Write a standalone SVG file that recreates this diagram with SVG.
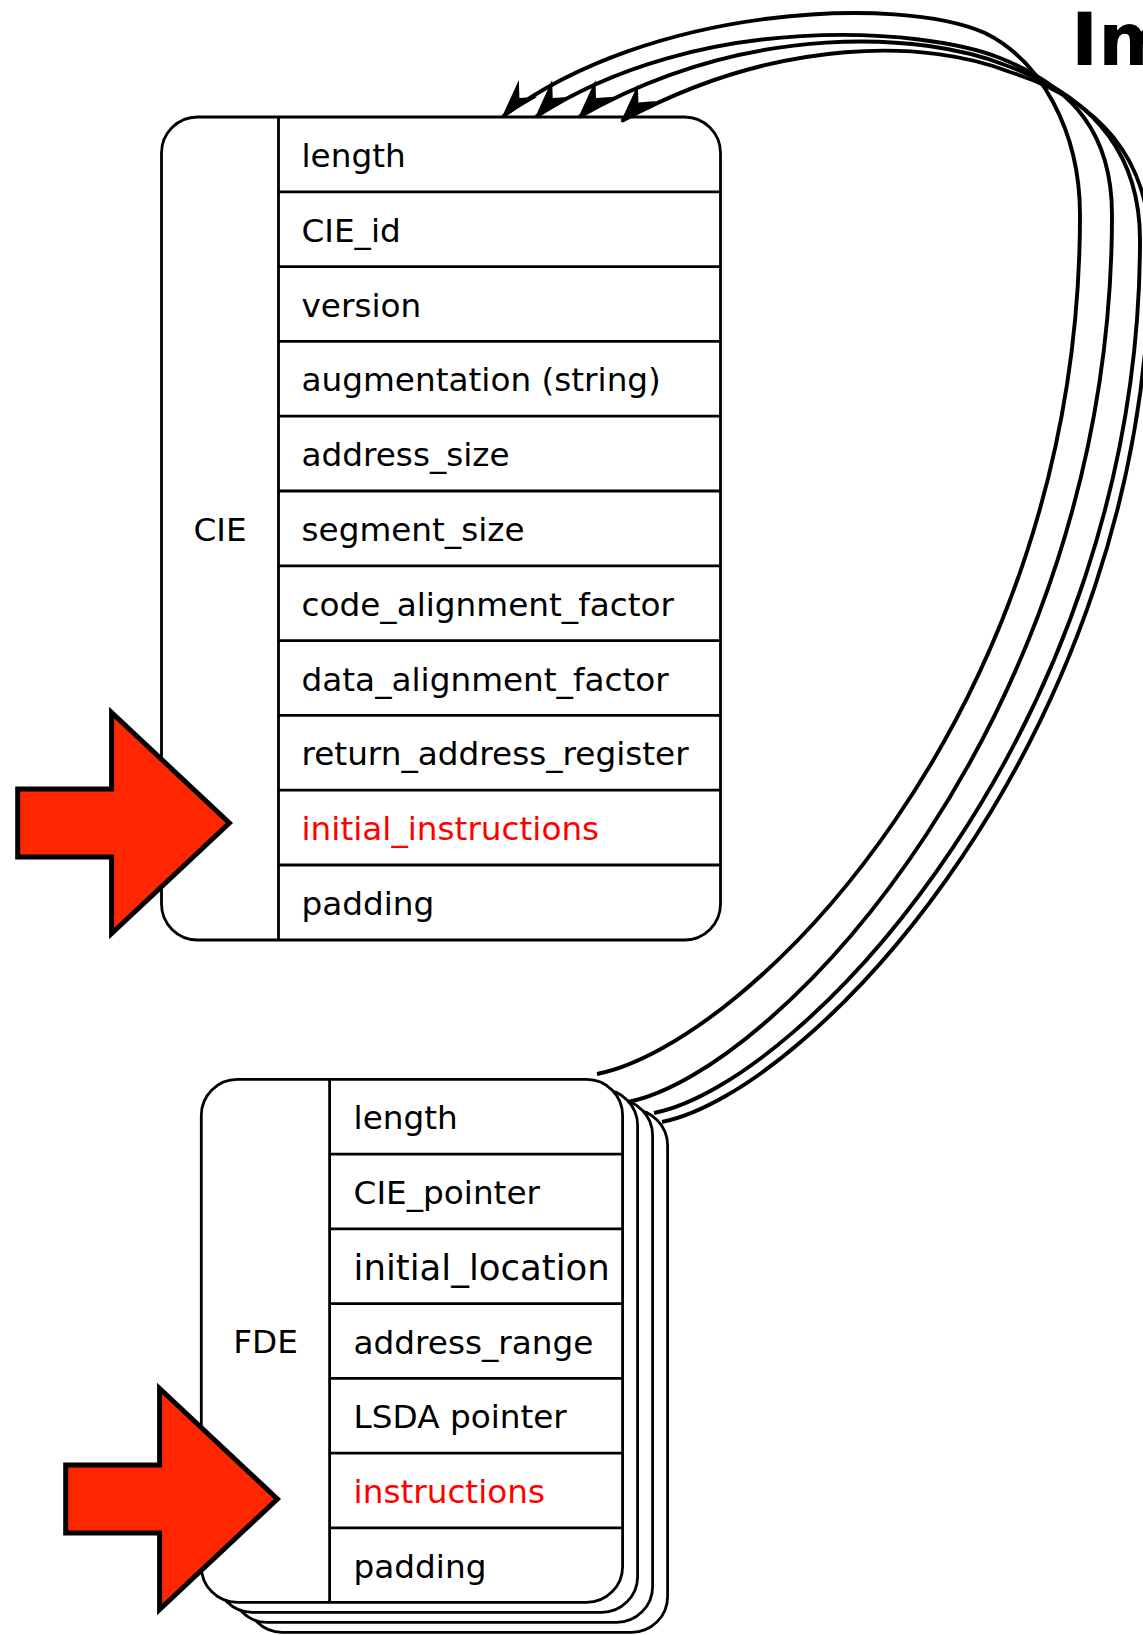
<svg xmlns="http://www.w3.org/2000/svg" width="1143" height="1635" viewBox="0 0 1143 1635">
<style>
.box{fill:#fff;stroke:#000;stroke-width:2.8}
.ln{stroke:#000;stroke-width:2.8;fill:none}
.t{font-family:"DejaVu Sans",sans-serif;font-size:32.7px;fill:#000}
.red{fill:#ff0000}
.lbl{text-anchor:middle}
.big{font-size:35.5px}
.conn{fill:none;stroke:#000;stroke-width:3.9}
.arrow{fill:#ff2600;stroke:#000;stroke-width:5;stroke-linejoin:miter}
.title{font-family:"DejaVu Sans",sans-serif;font-weight:bold;font-size:73px;fill:#000}
</style>
<defs>
<marker id="ah" markerUnits="userSpaceOnUse" viewBox="-46 -16 50 32" refX="0" refY="0" markerWidth="50" markerHeight="32" orient="132" overflow="visible">
<path d="M2,0 L-38,-12.5 L-25,0 L-38,12.5 Z" fill="#000"/>
</marker>
</defs>
<rect width="1143" height="1635" fill="#fff"/>
<text class="title" x="1071" y="65">Im</text>

<g id="cie">
<rect class="box" x="161.5" y="117" width="559" height="823" rx="36" ry="36"/>
<path class="ln" d="M278.5,117V940 M278.5,191.8H720.6 M278.5,266.6H720.6 M278.5,341.4H720.6 M278.5,416.2H720.6 M278.5,491H720.6 M278.5,565.8H720.6 M278.5,640.6H720.6 M278.5,715.4H720.6 M278.5,790.2H720.6 M278.5,865H720.6"/>
<text class="t lbl" x="220" y="541">CIE</text>
<text class="t" x="301.5" y="167">length</text>
<text class="t" x="301.5" y="241.8">CIE_id</text>
<text class="t" x="301.5" y="316.6">version</text>
<text class="t" x="301.5" y="391.4">augmentation (string)</text>
<text class="t" x="301.5" y="466.2">address_size</text>
<text class="t" x="301.5" y="541">segment_size</text>
<text class="t" x="301.5" y="615.8">code_alignment_factor</text>
<text class="t" x="301.5" y="690.6">data_alignment_factor</text>
<text class="t" x="301.5" y="765.4">return_address_register</text>
<text class="t red" x="301.5" y="840.2">initial_instructions</text>
<text class="t" x="301.5" y="915">padding</text>
</g>

<g id="fde-stack">
<rect class="box" x="246.3" y="1109.4" width="421.3" height="523" rx="36" ry="36"/>
<rect class="box" x="231.3" y="1099.4" width="421.3" height="523" rx="36" ry="36"/>
<rect class="box" x="216.3" y="1089.4" width="421.3" height="523" rx="36" ry="36"/>
</g>

<g id="fde">
<rect class="box" x="201.3" y="1079.4" width="421.3" height="523" rx="36" ry="36"/>
<path class="ln" d="M329.6,1079.4V1602.4 M329.6,1154.1H622.6 M329.6,1228.9H622.6 M329.6,1303.6H622.6 M329.6,1378.3H622.6 M329.6,1453.1H622.6 M329.6,1527.8H622.6"/>
<text class="t lbl" x="265.5" y="1353">FDE</text>
<text class="t" x="353.6" y="1129.4">length</text>
<text class="t" x="353.6" y="1204.1">CIE_pointer</text>
<text class="t big" x="353.6" y="1279.9">initial_location</text>
<text class="t" x="353.6" y="1353.6">address_range</text>
<text class="t" x="353.6" y="1428.3">LSDA pointer</text>
<text class="t red" x="353.6" y="1503.1">instructions</text>
<text class="t" x="353.6" y="1577.8">padding</text>
</g>

<g id="connectors">
<path class="conn" marker-end="url(#ah)" d="M597,1074 C747,1044 1080,715 1080,215 C1080,130 1040,60 985,33 C900,-5 650,5 502.7,116.7"/>
<path class="conn" marker-end="url(#ah)" d="M628,1102 C778,1072 1112,715 1112,215 C1112,135 1075,88 1000,58 C925,28 700,10 536,116.7"/>
<path class="conn" marker-end="url(#ah)" d="M654,1113 C804,1083 1140,725 1140,240 C1140,150 1090,95 1005,65 C925,33 750,20 579.3,116.7"/>
<path class="conn" marker-end="url(#ah)" d="M662,1122 C812,1092 1150,735 1150,250 C1150,160 1100,100 1010,72 C930,40 780,35 621.7,121"/>
</g>

<g id="arrow-cie">
<polygon class="arrow" points="17.7,789 111.6,789 111.6,712.5 229.4,823 111.6,933.5 111.6,857 17.7,857"/>
</g>
<g id="arrow-fde">
<polygon class="arrow" points="65.7,1465 159.6,1465 159.6,1388.5 277.4,1499 159.6,1609.5 159.6,1533 65.7,1533"/>
</g>
</svg>
